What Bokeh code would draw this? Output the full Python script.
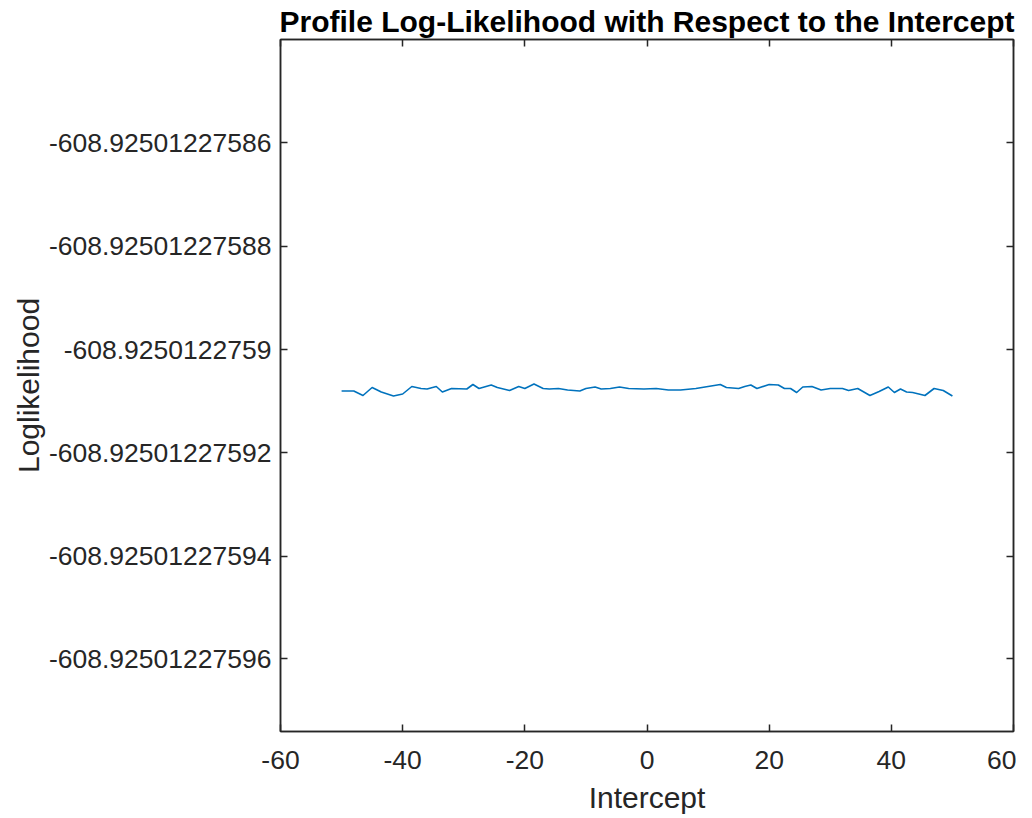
from bokeh.plotting import figure
from bokeh.models import Range1d, FixedTicker, CustomJSTickFormatter, LinearAxis
from bokeh.embed import file_html
from bokeh.resources import INLINE

# ---- data ----
intercept = [-50, -48, -46.5, -45, -43.5, -41.5, -40, -38.5, -37, -36, -34.5, -33.5,
             -32, -29.5, -28.5, -27.5, -25.5, -24.5, -22.5, -21, -20, -18.5, -17, -16,
             -14.5, -13, -11, -10, -8.5, -7.5, -6, -4.5, -3, -0.5, 1.5, 3.5, 5.5, 8,
             9.5, 12, 13, 15, 16, 17, 18, 20, 21.5, 22.5, 23.5, 24.5, 25.5, 27, 28.5,
             30, 32, 33, 34.5, 36.5, 38, 39.5, 40.5, 41.5, 42.5, 43.5, 45.5, 47, 48.5, 50]
loglik = [-608.9250122759081, -608.9250122759081, -608.9250122759090, -608.9250122759074,
          -608.9250122759083, -608.9250122759091, -608.9250122759087, -608.9250122759072,
          -608.9250122759076, -608.9250122759078, -608.9250122759072, -608.9250122759083,
          -608.9250122759076, -608.9250122759078, -608.9250122759069, -608.9250122759077,
          -608.9250122759070, -608.9250122759074, -608.9250122759080, -608.9250122759072,
          -608.9250122759076, -608.9250122759067, -608.9250122759076, -608.9250122759078,
          -608.9250122759076, -608.9250122759079, -608.9250122759081, -608.9250122759077,
          -608.9250122759073, -608.9250122759078, -608.9250122759076, -608.9250122759073,
          -608.9250122759077, -608.9250122759078, -608.9250122759076, -608.9250122759079,
          -608.9250122759079, -608.9250122759077, -608.9250122759073, -608.9250122759069,
          -608.9250122759074, -608.9250122759077, -608.9250122759072, -608.9250122759070,
          -608.9250122759076, -608.9250122759069, -608.9250122759070, -608.9250122759077,
          -608.9250122759076, -608.9250122759085, -608.9250122759073, -608.9250122759072,
          -608.9250122759079, -608.9250122759076, -608.9250122759077, -608.9250122759080,
          -608.9250122759076, -608.9250122759090, -608.9250122759082, -608.9250122759073,
          -608.9250122759085, -608.9250122759078, -608.9250122759083, -608.9250122759085,
          -608.9250122759090, -608.9250122759076, -608.9250122759080, -608.9250122759091]

x_ticks = [-60, -40, -20, 0, 20, 40, 60]
y_ticks = [-608.92501227596, -608.92501227594, -608.92501227592,
           -608.9250122759, -608.92501227588, -608.92501227586]
x_limits = (-60, 60)
y_limits = (-608.925012275974, -608.92501227584)

title_text = "Profile Log-Likelihood with Respect to the Intercept"
x_label = "Intercept"
y_label = "Loglikelihood"

AX = "#262626"
FONT = "Liberation Sans"

p = figure(width=1016, height=818, output_backend="svg", toolbar_location=None,
           x_range=Range1d(*x_limits), y_range=Range1d(*y_limits),
           x_axis_label=x_label, y_axis_label=y_label,
           min_border_left=280, min_border_right=3, min_border_top=36, min_border_bottom=87)

p.title.text = title_text
p.title.align = "center"
p.title.text_font = FONT
p.title.text_font_size = "30px"
p.title.text_font_style = "bold"
p.title.text_color = "#000000"
p.title.standoff = 4

p.line(intercept, loglik, line_color="#0072BD", line_width=1.6, line_join="round")

p.grid.visible = False
p.outline_line_color = AX
p.outline_line_width = 1.5
p.background_fill_color = "white"
p.border_fill_color = "white"

yfmt = CustomJSTickFormatter(code="return String(parseFloat(tick.toPrecision(14)));")
xfmt = CustomJSTickFormatter(code="return String(tick);")
blank = CustomJSTickFormatter(code="return '';")

def style(ax, ticks, labels=True):
    ax.ticker = FixedTicker(ticks=ticks)
    ax.axis_line_color = AX
    ax.axis_line_width = 1.5
    ax.major_tick_line_color = AX
    ax.major_tick_line_width = 1.5
    ax.major_tick_in = 7
    ax.major_tick_out = 0
    ax.minor_tick_line_color = None
    ax.major_label_text_color = AX
    ax.major_label_text_font = FONT
    if labels:
        ax.major_label_text_font_size = "26.5px"
        ax.axis_label_text_font = FONT
        ax.axis_label_text_font_size = "30px"
        ax.axis_label_text_font_style = "normal"
        ax.axis_label_text_color = AX
    else:
        ax.formatter = blank
        ax.major_label_text_font_size = "1px"
        ax.major_label_standoff = 0

xa = p.xaxis[0]
ya = p.yaxis[0]
style(xa, x_ticks)
style(ya, y_ticks)
xa.formatter = xfmt
ya.formatter = yfmt
xa.major_label_standoff = 19
xa.axis_label_standoff = 9
ya.major_label_standoff = 9
ya.axis_label_standoff = 1

top = LinearAxis()
style(top, x_ticks, labels=False)
p.add_layout(top, "above")
right = LinearAxis()
style(right, y_ticks, labels=False)
p.add_layout(right, "right")

open("out.html", "w").write(file_html(p, INLINE))
